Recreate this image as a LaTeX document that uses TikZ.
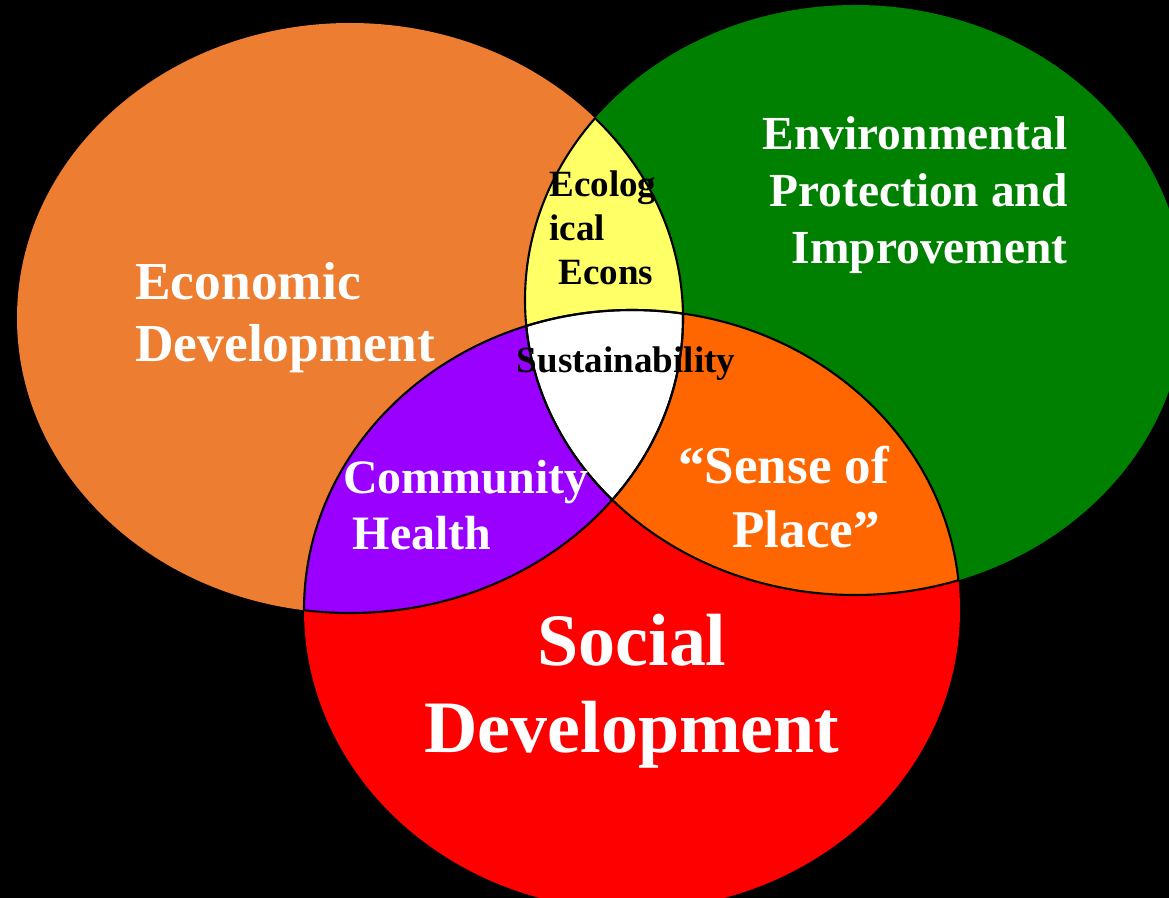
\documentclass[tikz,border=0pt]{standalone}
\usepackage{fontspec}
\usepackage{xcolor}
\setmainfont{Liberation Serif}

\definecolor{econorange}{HTML}{ED7D31}
\definecolor{envgreen}{HTML}{008000}
\definecolor{socred}{HTML}{FF0000}
\definecolor{ecolyellow}{HTML}{FFFF66}
\definecolor{healthpurple}{HTML}{9900FF}
\definecolor{placeorange}{HTML}{FF6600}

\begin{document}
\begin{tikzpicture}[x=0.02cm, y=-0.02cm,
    econ size/.style={x radius=333, y radius=295},
    env size/.style={x radius=330, y radius=295},
    soc size/.style={x radius=328, y radius=300},
    seam/.style={draw=black, line width=1.2pt},
    whitetext/.style={text=white, inner sep=0pt},
    blacktext/.style={text=black, inner sep=0pt}]

    % canvas
    \fill[black] (0,0) rectangle (1169,898);
    \clip (0,0) rectangle (1169,898);

    % centres
    \coordinate (econ) at (350,318);
    \coordinate (env) at (855,300);
    \coordinate (soc) at (632,610);

    % circles
    \fill[econorange] (econ) ellipse [econ size];
    \fill[envgreen] (env) ellipse [env size];
    \fill[socred] (soc) ellipse [soc size];

    % overlaps
    \begin{scope}
        \clip (econ) ellipse [econ size];
        \fill[ecolyellow] (env) ellipse [env size];
        \fill[healthpurple] (soc) ellipse [soc size];
    \end{scope}
    \begin{scope}
        \clip (env) ellipse [env size];
        \fill[placeorange] (soc) ellipse [soc size];
        \clip (econ) ellipse [econ size];
        \fill[white] (soc) ellipse [soc size];
    \end{scope}

    % seams
    \begin{scope}
        \clip (econ) ellipse [econ size];
        \draw[seam] (env) ellipse [env size];
        \draw[seam] (soc) ellipse [soc size];
    \end{scope}
    \begin{scope}
        \clip (env) ellipse [env size];
        \draw[seam] (econ) ellipse [econ size];
        \draw[seam] (soc) ellipse [soc size];
    \end{scope}
    \begin{scope}
        \clip (soc) ellipse [soc size];
        \draw[seam] (econ) ellipse [econ size];
        \draw[seam] (env) ellipse [env size];
    \end{scope}

    % labels
    \node[whitetext, anchor=west, align=left,
        font=\bfseries\fontsize{30.4}{35.3}\selectfont] (econtext) at (135,318)
        {Economic\\Development};
    \node[whitetext, anchor=east, align=right,
        font=\bfseries\fontsize{27}{32.4}\selectfont] (envtext) at (1068,195)
        {Environmental\\Protection and\\Improvement};
    \node[whitetext, align=center,
        font=\bfseries\fontsize{42.1}{49.5}\selectfont] (soctext) at (632,691)
        {Social\\Development};
    \node[whitetext, anchor=west, align=left,
        font=\bfseries\fontsize{27.3}{31.9}\selectfont] (healthtext) at (343,505)
        {Community\\\hspace*{0.2em}Health};
    \node[whitetext, anchor=west, align=left,
        font=\bfseries\fontsize{30.2}{36.4}\selectfont] (placetext) at (678,497)
        {“Sense of\\\hspace*{1.02em}Place”};
    \node[blacktext, anchor=west, align=left,
        font=\bfseries\fontsize{21.1}{25}\selectfont] (ecoltext) at (549,228)
        {Ecolog\\ical\\\hspace*{0.25em}Econs};
    \node[blacktext, anchor=base,
        font=\bfseries\fontsize{21.1}{25}\selectfont] (sustext) at (626,372)
        {Sustainability};
\end{tikzpicture}
\end{document}
